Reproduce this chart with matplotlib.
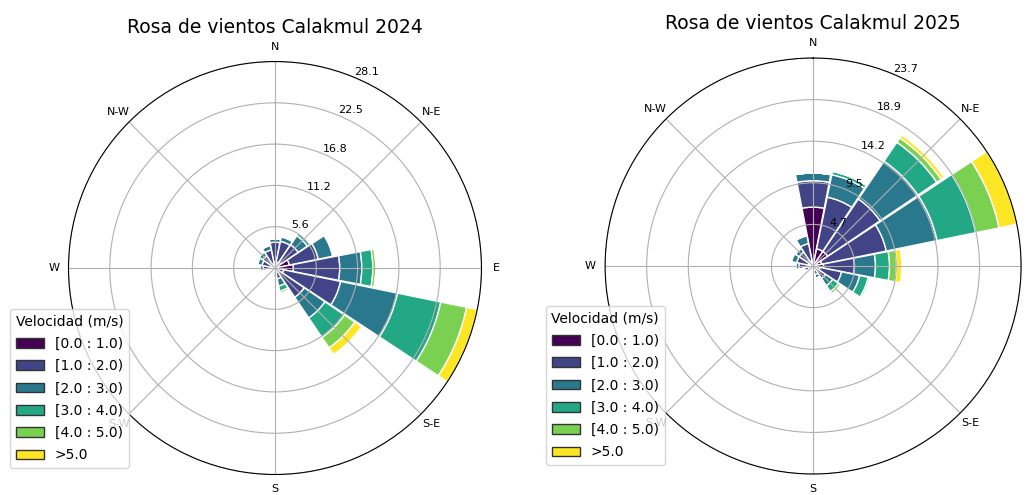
import numpy as np
import matplotlib
matplotlib.use("Agg")
import matplotlib.pyplot as plt
import matplotlib.patches as mpatches

# direcciones (16 sectores, sentido horario desde el norte)
direcciones = ["N", "NNE", "NE", "ENE", "E", "ESE", "SE", "SSE",
               "S", "SSW", "SW", "WSW", "W", "WNW", "NW", "NNW"]
etiquetas_vel = ["[0.0 : 1.0)", "[1.0 : 2.0)", "[2.0 : 3.0)",
                 "[3.0 : 4.0)", "[4.0 : 5.0)", ">5.0"]
etiquetas_dir = ["N", "N-E", "E", "S-E", "S", "S-W", "W", "N-W"]

# frecuencias (%) 2024 por rango de velocidad
f24_0_1 = [0.8, 0.8, 1.0, 2.0, 2.5, 1.2, 0.6, 0.3, 0.3, 0.2, 0.2, 0.3, 0.4, 0.4, 0.4, 0.5]
f24_1_2 = [2.7, 2.9, 2.8, 4.0, 6.3, 7.9, 4.2, 1.2, 0.6, 0.3, 0.3, 0.5, 1.2, 1.4, 1.6, 2.0]
f24_2_3 = [0.5, 0.6, 1.5, 2.0, 3.0, 7.9, 3.4, 1.0, 0.3, 0.1, 0.1, 0.2, 0.4, 0.6, 0.6, 0.6]
f24_3_4 = [0.0, 0.2, 0.4, 0.2, 1.5, 6.0, 3.2, 0.7, 0.0, 0.0, 0.0, 0.0, 0.0, 0.2, 0.2, 0.1]
f24_4_5 = [0.0, 0.0, 0.1, 0.0, 0.4, 3.6, 1.7, 0.3, 0.0, 0.0, 0.0, 0.0, 0.0, 0.0, 0.0, 0.0]
f24_5 = [0.0, 0.0, 0.0, 0.0, 0.2, 1.47, 1.1, 0.0, 0.0, 0.0, 0.0, 0.0, 0.0, 0.0, 0.0, 0.0]

# frecuencias (%) 2025 por rango de velocidad
f25_0_1 = [6.7, 2.0, 2.0, 1.0, 1.2, 0.8, 0.4, 0.3, 0.3, 0.2, 0.2, 0.3, 0.4, 0.5, 0.5, 0.6]
f25_1_2 = [3.0, 6.0, 7.2, 7.5, 3.5, 2.5, 1.3, 0.7, 0.4, 0.3, 0.3, 0.7, 1.2, 1.4, 1.4, 2.0]
f25_2_3 = [0.9, 2.6, 5.2, 5.9, 2.4, 2.1, 1.0, 0.4, 0.1, 0.1, 0.1, 0.2, 0.4, 0.6, 0.5, 0.9]
f25_3_4 = [0.0, 0.4, 2.6, 4.5, 1.6, 1.0, 0.8, 0.1, 0.0, 0.0, 0.0, 0.0, 0.0, 0.1, 0.1, 0.1]
f25_4_5 = [0.0, 0.0, 0.6, 2.7, 0.8, 0.2, 0.3, 0.0, 0.0, 0.0, 0.0, 0.0, 0.0, 0.0, 0.0, 0.0]
f25_5 = [0.0, 0.0, 0.4, 2.07, 0.6, 0.1, 0.1, 0.0, 0.0, 0.0, 0.0, 0.0, 0.0, 0.0, 0.0, 0.0]

datos = {
    "2024": [f24_0_1, f24_1_2, f24_2_3, f24_3_4, f24_4_5, f24_5],
    "2025": [f25_0_1, f25_1_2, f25_2_3, f25_3_4, f25_4_5, f25_5],
}

colores = plt.cm.viridis(np.linspace(0, 1, len(etiquetas_vel)))

fig = plt.figure(figsize=(10.28, 4.95), dpi=100)
posiciones = {"2024": [0.0666, 0.0414, 0.4018, 0.8343],
              "2025": [0.5886, 0.0424, 0.4047, 0.8404]}
legend_pos = {"2024": (0.0097, 0.0545), "2025": (0.531, 0.0606)}

n = len(direcciones)
theta = np.arange(n) * 2 * np.pi / n
ancho = 2 * np.pi / n * 0.97

for anio, tabla in datos.items():
    ax = fig.add_axes(posiciones[anio], projection="polar")
    ax.set_theta_zero_location("N")
    ax.set_theta_direction(-1)
    tabla = np.array(tabla)
    base = np.zeros(n)
    for i in range(len(etiquetas_vel)):
        ax.bar(theta, tabla[i], width=ancho, bottom=base, color=colores[i],
               edgecolor="white", linewidth=1.0)
        base = base + tabla[i]
    rmax = tabla.sum(axis=0).max()
    ax.set_ylim(0, rmax)
    radios = np.linspace(0, rmax, 6)[1:]
    ax.set_rgrids(radios, labels=["%.1f" % r for r in radios], angle=22.5, fontsize=8)
    ax.set_thetagrids(np.arange(0, 360, 45), labels=etiquetas_dir, fontsize=8)
    ax.tick_params(axis="x", pad=0)
    ax.set_title("Rosa de vientos Calakmul " + anio, fontsize=13.5, y=1.05)

    handles = [mpatches.Patch(facecolor=colores[i], edgecolor="#333333", label=etiquetas_vel[i])
               for i in range(len(etiquetas_vel))]
    ax.legend(handles=handles, title="Velocidad (m/s)", fontsize=10, title_fontsize=10,
              labelspacing=0.6, loc="lower left", bbox_to_anchor=legend_pos[anio],
              bbox_transform=fig.transFigure, borderaxespad=0)

plt.savefig("out.png", dpi=100)
